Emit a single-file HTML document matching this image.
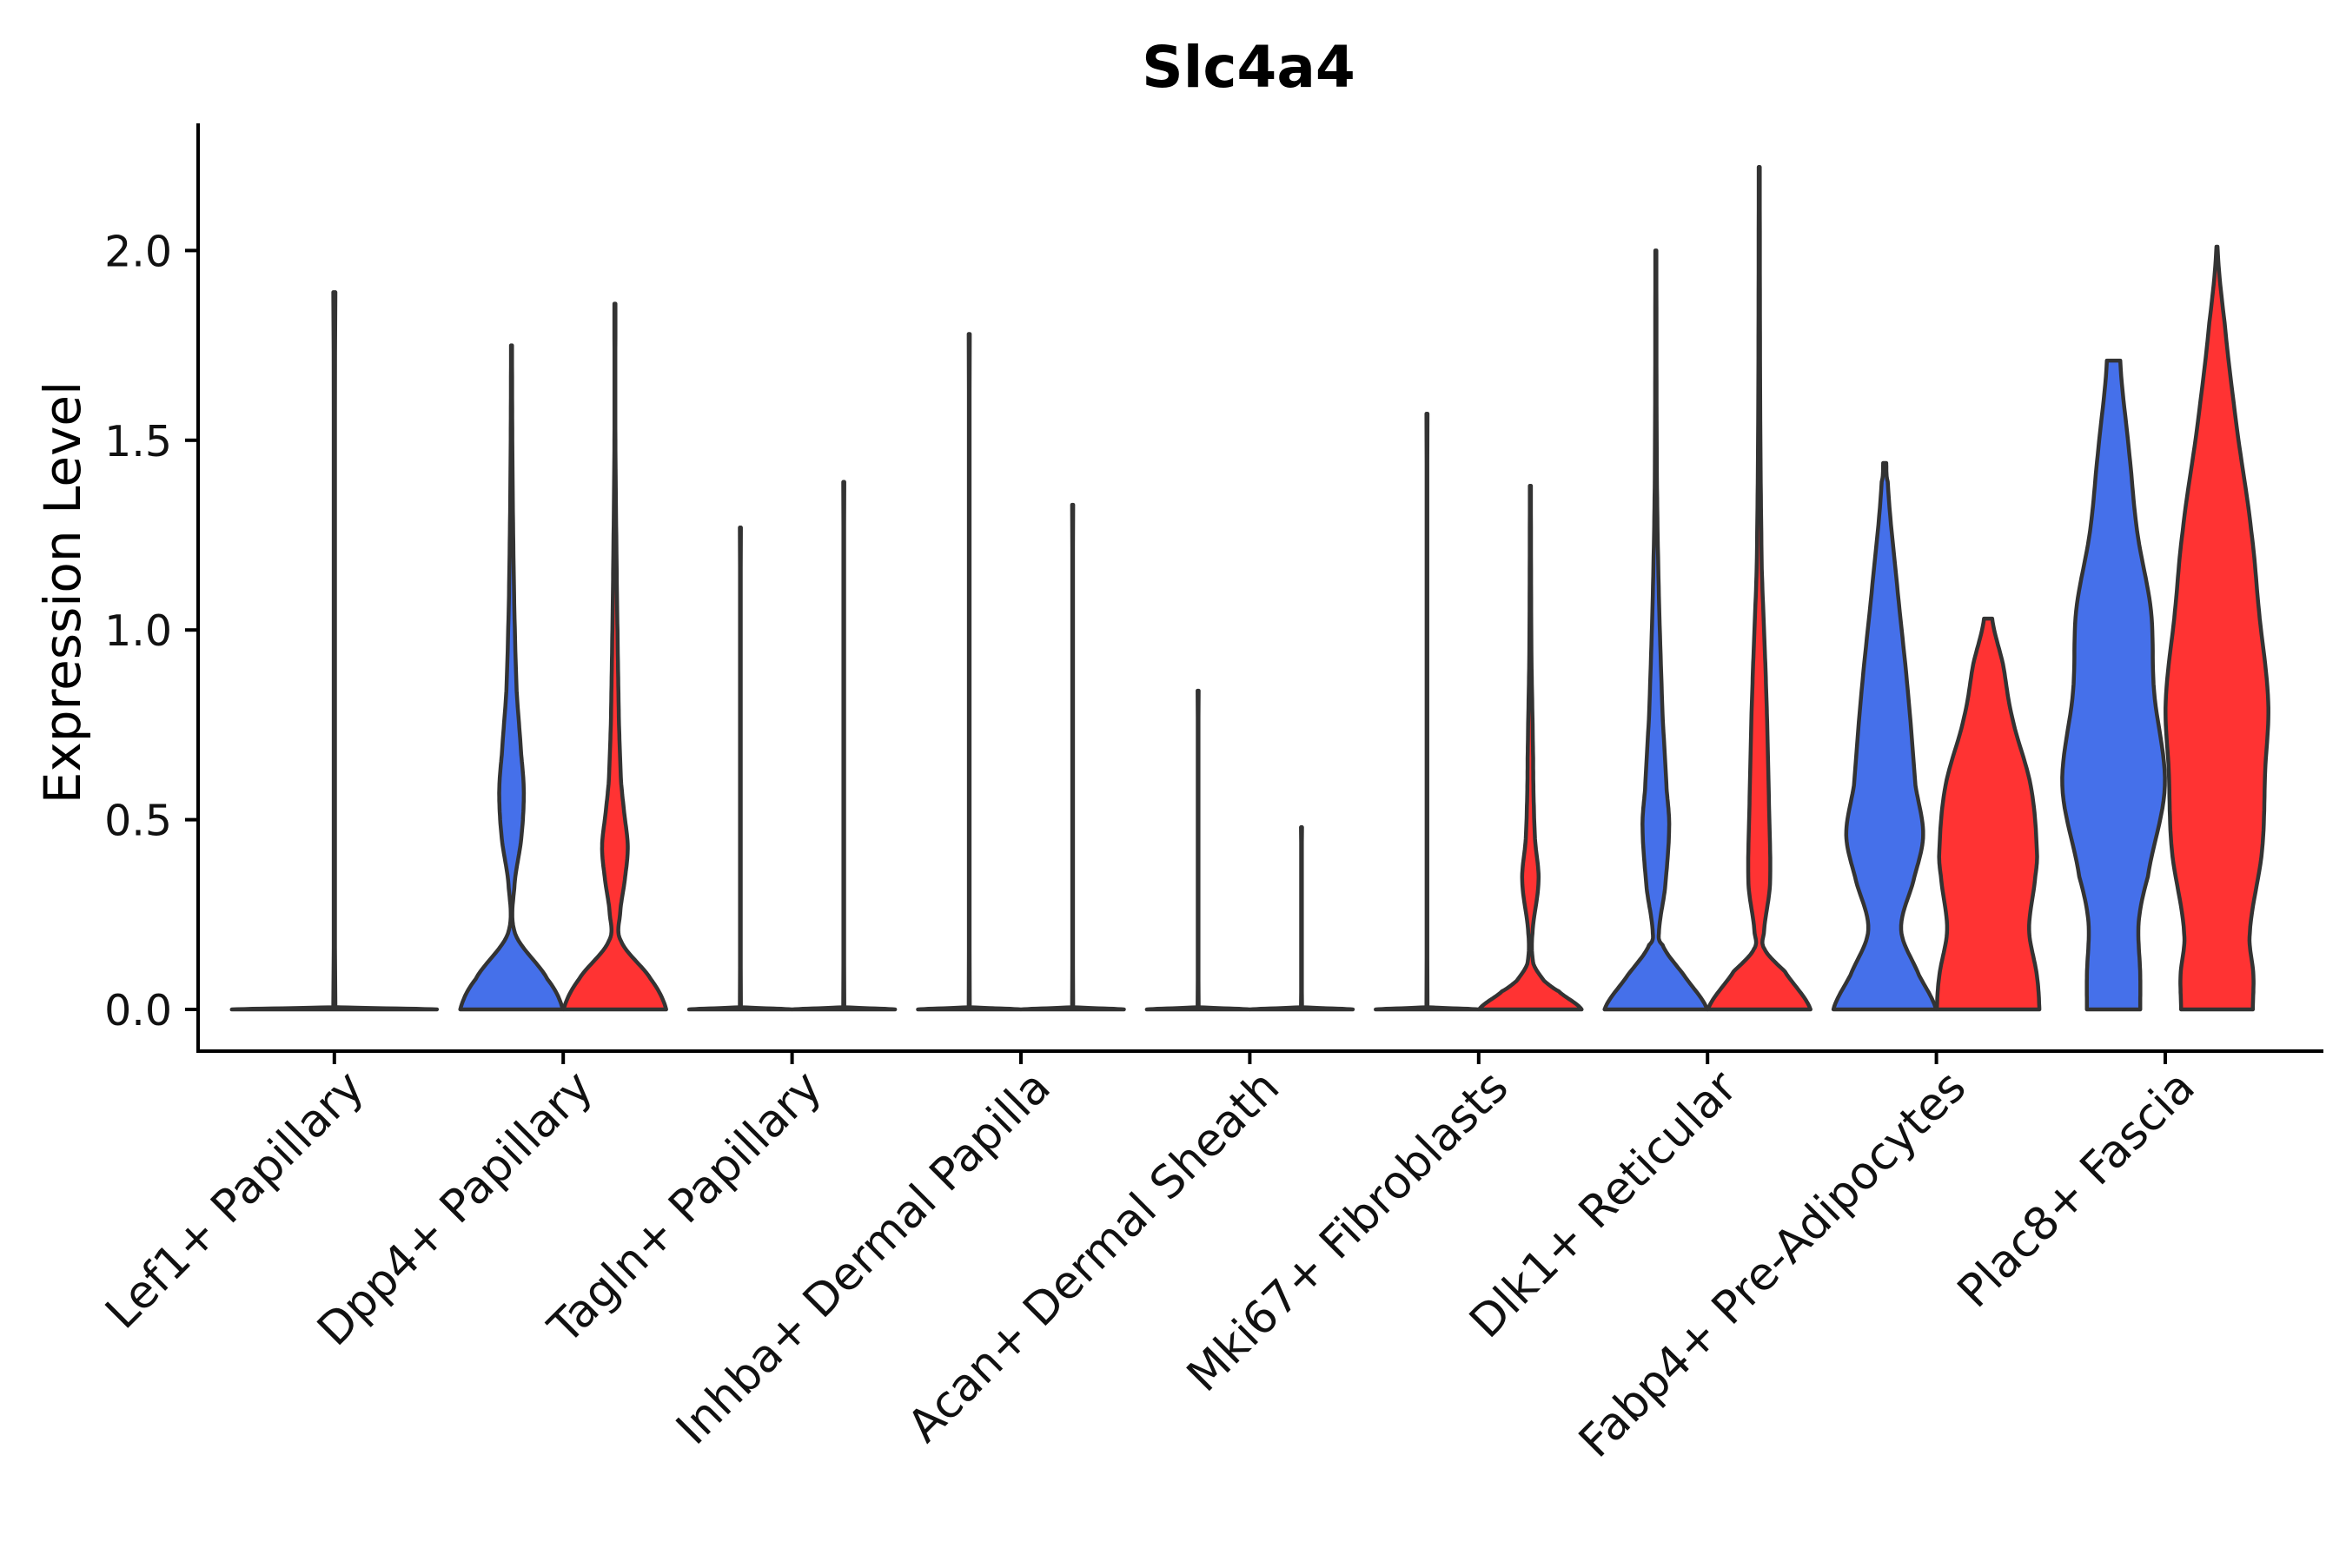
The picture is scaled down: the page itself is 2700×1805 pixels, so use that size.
<!DOCTYPE html>
<html><head><meta charset="utf-8"><style>
html,body{margin:0;padding:0;background:#fff;}
svg text{font-family:"DejaVu Sans","Liberation Sans",sans-serif;}
</style></head><body>
<svg id="chart" width="2700" height="1800" viewBox="0 0 2700 1800" xmlns="http://www.w3.org/2000/svg">
<rect width="2700" height="1800" fill="#fff"/>
<text x="1437" y="100" text-anchor="middle" font-size="66" font-weight="bold">Slc4a4</text>
<text transform="translate(92,682) rotate(-90)" text-anchor="middle" font-size="58">Expression Level</text>
<g id="marks"></g>
<g id="axes"></g>
</svg>
<script>
const categories = ["Lef1+ Papillary","Dpp4+ Papillary","Tagln+ Papillary","Inhba+ Dermal Papilla","Acan+ Dermal Sheath","Mki67+ Fibroblasts","Dlk1+ Reticular","Fabp4+ Pre-Adipocytes","Plac8+ Fascia"];
const yTicks = [0, 0.5, 1.0, 1.5, 2.0];
const yTickLabels = ["0.0","0.5","1.0","1.5","2.0"];
// violins: group index, side (-1 blue, 1 red, 0 single), max value, density knots
const vGroup = [0,1,1,2,2,3,3,4,4,5,5,6,6,7,7,8,8];
const vSide  = [0,-1,1,-1,1,-1,1,-1,1,-1,1,-1,1,-1,1,-1,1];
const vMax   = [1.89,1.75,1.86,1.27,1.39,1.78,1.33,0.84,0.48,1.57,1.38,2.0,2.22,1.44,1.03,1.71,2.01];
const FLAT_Y = [0,0.006,1];
const FLAT_W = [1,0.01,0.01];
const vYs = [
 FLAT_Y,
 [0,0.08,0.2,0.33,0.45,0.57,0.67,0.84,1.09,1.42,1],
 [0,0.08,0.18,0.25,0.35,0.43,0.52,0.6,0.75,1.0,1.2,1.5,1],
 FLAT_Y, FLAT_Y, FLAT_Y, FLAT_Y, FLAT_Y, FLAT_Y, FLAT_Y,
 [0,0.048,0.075,0.12,0.2,0.34,0.45,0.58,0.69,0.94,1],
 [0,0.09,0.17,0.2,0.32,0.48,0.58,0.78,1.09,1.4,1],
 [0,0.1,0.16,0.2,0.33,0.54,0.78,0.94,1.16,1.55,1],
 [0,0.09,0.21,0.35,0.46,0.59,0.84,1.12,1.39,1],
 [0,0.09,0.21,0.35,0.42,0.59,0.77,0.91,1],
 [0,0.09,0.23,0.35,0.59,0.84,1.05,1.26,1.46,1],
 [0,0.09,0.2,0.42,0.63,0.81,1.05,1.26,1.53,1.81,1]
];
const vWs = [
 FLAT_W,
 [1,0.7,0.07,0.06,0.19,0.24,0.19,0.1,0.05,0.02,0.01],
 [1,0.7,0.12,0.1,0.2,0.25,0.18,0.12,0.08,0.05,0.03,0.01,0.01],
 FLAT_W, FLAT_W, FLAT_W, FLAT_W, FLAT_W, FLAT_W, FLAT_W,
 [1,0.55,0.27,0.06,0.04,0.16,0.09,0.06,0.05,0.02,0.01],
 [1,0.55,0.13,0.06,0.18,0.26,0.21,0.13,0.06,0.02,0.01],
 [1,0.5,0.1,0.09,0.21,0.19,0.15,0.11,0.05,0.02,0.01],
 [1,0.67,0.32,0.58,0.75,0.6,0.45,0.24,0.06,0.03],
 [1,0.95,0.8,0.92,0.95,0.83,0.47,0.29,0.08],
 [0.52,0.52,0.49,0.67,1.0,0.79,0.73,0.46,0.31,0.13],
 [0.7,0.71,0.64,0.88,0.94,1.0,0.82,0.67,0.39,0.15,0.01]
];
const fills = {"-1":"#4570EA","1":"#FF3333","0":"#4570EA"};

const NS="http://www.w3.org/2000/svg";
const X0=384.8, XSTEP=263.4, Y0=1162, YUNIT=436.8, DODGE=59.5, HW=59;
const xScale = i => X0 + i*XSTEP;
const yScale = v => Y0 - v*YUNIT;
function mk(tag, attrs, parent){const e=document.createElementNS(NS,tag);for(const k in attrs)e.setAttribute(k,attrs[k]);parent.appendChild(e);return e;}

const marks=document.getElementById('marks');
for(let k=0;k<vGroup.length;k++){
  const cx = xScale(vGroup[k]) + vSide[k]*DODGE;
  const hwMax = vSide[k]===0 ? HW*2 : HW;
  const mx = vMax[k];
  let ys = vYs[k].slice(), ws = vWs[k].slice();
  ys[ys.length-1] = mx;
  if (vYs[k]===FLAT_Y) ys = [0,0.006,mx];
  const pts=[];
  for(let i=0;i<ys.length-1;i++){
    const p0=ws[Math.max(i-1,0)],p1=ws[i],p2=ws[i+1],p3=ws[Math.min(i+2,ws.length-1)];
    const n=12;
    for(let s=0;s<n;s++){
      const t=s/n;
      let w=0.5*((2*p1)+(-p0+p2)*t+(2*p0-5*p1+4*p2-p3)*t*t+(-p0+3*p1-3*p2+p3)*t*t*t);
      w=Math.max(w,0.006);
      pts.push([ys[i]+(ys[i+1]-ys[i])*t,w]);
    }
  }
  pts.push([ys[ys.length-1],ws[ws.length-1]]);
  let d="M"+(cx-hwMax*pts[0][1]).toFixed(1)+","+yScale(0).toFixed(1);
  for(const p of pts) d+=" L"+(cx+hwMax*p[1]).toFixed(1)+","+yScale(p[0]).toFixed(1);
  for(let i=pts.length-1;i>=0;i--) d+=" L"+(cx-hwMax*pts[i][1]).toFixed(1)+","+yScale(pts[i][0]).toFixed(1);
  d+=" Z";
  const path=mk('path',{d:d,fill:fills[String(vSide[k])],stroke:"#333333","stroke-width":"4.5","stroke-linejoin":"round"},marks);
  
  
}

const axes=document.getElementById('axes');
const yl=mk('line',{x1:228,y1:142,x2:228,y2:1212,stroke:"#000","stroke-width":"4"},axes);


const xl=mk('line',{x1:226,y1:1210,x2:2674,y2:1210,stroke:"#000","stroke-width":"4"},axes);


for(let i=0;i<yTicks.length;i++){
  const y=yScale(yTicks[i]);
  const t=mk('line',{x1:213,y1:y,x2:228,y2:y,stroke:"#000","stroke-width":"4"},axes);
  
  
  const lb=mk('text',{x:198,y:y+18,"text-anchor":"end","font-size":"49",fill:"#111"},axes);
  lb.textContent=yTickLabels[i];
  
  
}
for(let i=0;i<categories.length;i++){
  const x=xScale(i);
  const t=mk('line',{x1:x,y1:1210,x2:x,y2:1225,stroke:"#000","stroke-width":"4"},axes);
  
  
  const lb=mk('text',{transform:"translate("+(x+10)+",1228) rotate(-45)","text-anchor":"end","dominant-baseline":"hanging","font-size":"52",fill:"#111"},axes);
  lb.textContent=categories[i];
  
  
}
</script>
</body></html>
